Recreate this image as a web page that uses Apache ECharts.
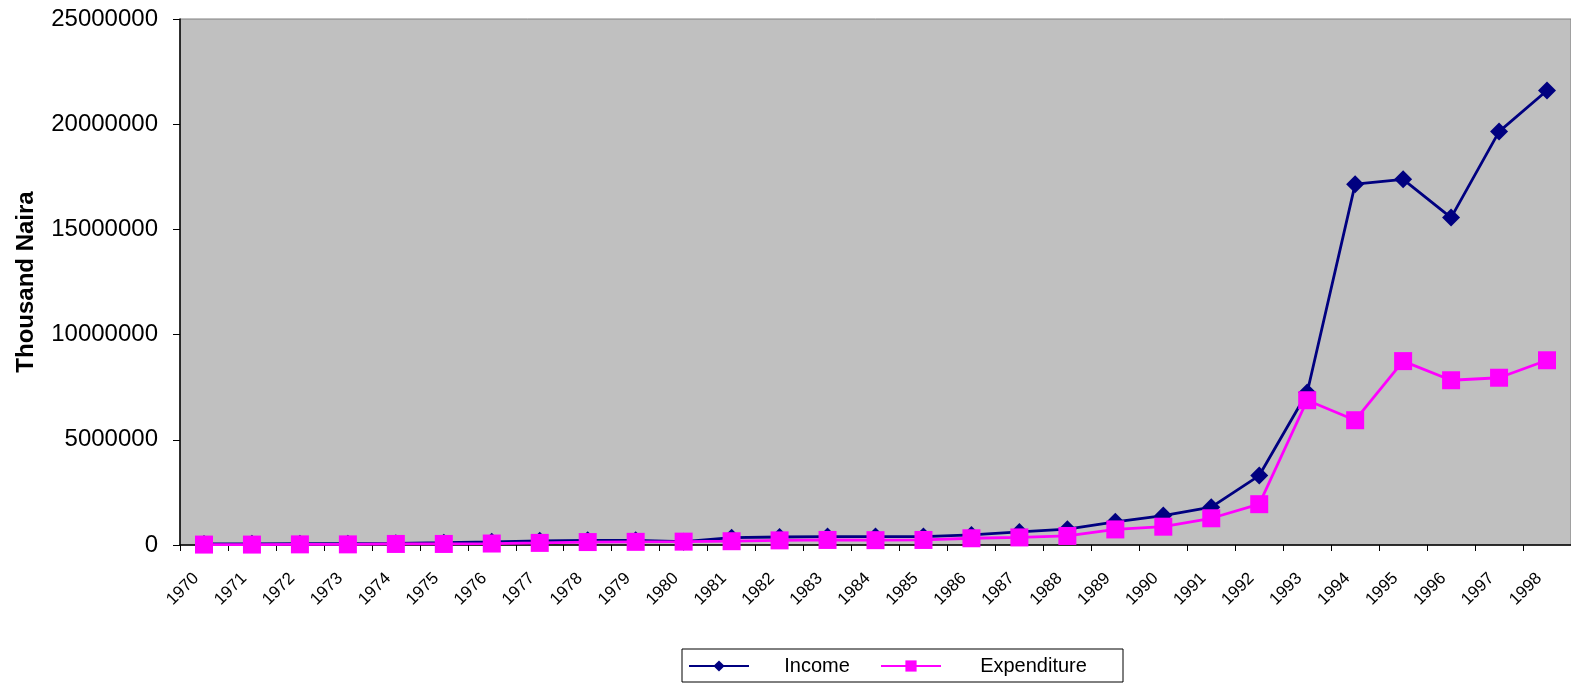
<!DOCTYPE html>
<html>
<head>
<meta charset="utf-8">
<script src="https://cdn.jsdelivr.net/npm/echarts@6/dist/echarts.min.js"></script>
<style>
html,body{margin:0;padding:0;background:#fff;}
#chart{width:1571px;height:686px;}
</style>
</head>
<body>
<div id="chart"></div>
<script>
var years = ['1970','1971','1972','1973','1974','1975','1976','1977','1978','1979','1980','1981','1982','1983','1984','1985','1986','1987','1988','1989','1990','1991','1992','1993','1994','1995','1996','1997','1998'];
var income = [50000, 55000, 60000, 65000, 80000, 110000, 150000, 200000, 220000, 220000, 160000, 350000, 380000, 400000, 400000, 400000, 480000, 620000, 750000, 1100000, 1400000, 1800000, 3300000, 7250000, 17150000, 17380000, 15560000, 19650000, 21600000];
var expenditure = [20000, 20000, 30000, 30000, 50000, 50000, 70000, 100000, 140000, 150000, 160000, 180000, 220000, 240000, 230000, 240000, 320000, 360000, 430000, 740000, 870000, 1270000, 1940000, 6880000, 5930000, 8740000, 7830000, 7950000, 8780000];
var yTicks = {min: 0, max: 25000000, interval: 5000000};
var yTitle = 'Thousand Naira';

var chart = echarts.init(document.getElementById('chart'), null, {renderer: 'canvas'});
var font = 'Liberation Sans, Arial, sans-serif';
chart.setOption({
  animation: false,
  backgroundColor: '#ffffff',
  grid: {
    left: 180, right: -1, top: 19, bottom: 141,
    show: true, backgroundColor: '#C0C0C0', borderColor: '#808080', borderWidth: 1
  },
  legend: {
    left: 682, top: 649,
    orient: 'horizontal',
    padding: [7, 2, 6, 6],
    borderColor: '#000', borderWidth: 1,
    itemWidth: 60, itemHeight: 14, itemGap: 0,
    data: ['Income', 'Expenditure'],
    formatter: function (name) { return name === 'Income' ? '{i|' + name + '}' : '{e|' + name + '}'; },
    textStyle: {
      fontFamily: font, fontSize: 20, color: '#000',
      rich: {
        i: {fontFamily: font, fontSize: 20, color: '#000', width: 126, align: 'center', lineHeight: 22},
        e: {fontFamily: font, fontSize: 20, color: '#000', width: 175, align: 'center', lineHeight: 22}
      }
    }
  },
  xAxis: {
    type: 'category',
    data: years,
    boundaryGap: true,
    axisLine: {show: true, lineStyle: {color: '#000', width: 1.5}},
    axisTick: {show: true, inside: false, length: 6, alignWithLabel: false, lineStyle: {color: '#000'}},
    axisLabel: {interval: 0, rotate: 45, fontFamily: font, fontSize: 17, color: '#000', margin: 23, padding: [0, 11, 0, 0]},
    splitLine: {show: false}
  },
  yAxis: {
    type: 'value',
    min: yTicks.min, max: yTicks.max, interval: yTicks.interval,
    name: yTitle,
    nameLocation: 'middle',
    nameRotate: 90,
    nameGap: 142,
    nameTextStyle: {fontFamily: font, fontSize: 24, fontWeight: 'bold', color: '#000'},
    axisLine: {show: true, lineStyle: {color: '#000', width: 1.5}},
    axisTick: {show: true, inside: false, length: 7, lineStyle: {color: '#000'}},
    axisLabel: {fontFamily: font, fontSize: 24, color: '#000', margin: 22, formatter: function (v) { return String(v); }},
    splitLine: {show: false}
  },
  series: [
    {
      name: 'Income', type: 'line', data: income,
      symbol: 'diamond', symbolSize: 18,
      lineStyle: {color: '#000080', width: 2.8},
      itemStyle: {color: '#000080'},
      z: 3
    },
    {
      name: 'Expenditure', type: 'line', data: expenditure,
      symbol: 'rect', symbolSize: 18,
      lineStyle: {color: '#FF00FF', width: 2.8},
      itemStyle: {color: '#FF00FF'},
      z: 4
    }
  ]
});
</script>
</body>
</html>
